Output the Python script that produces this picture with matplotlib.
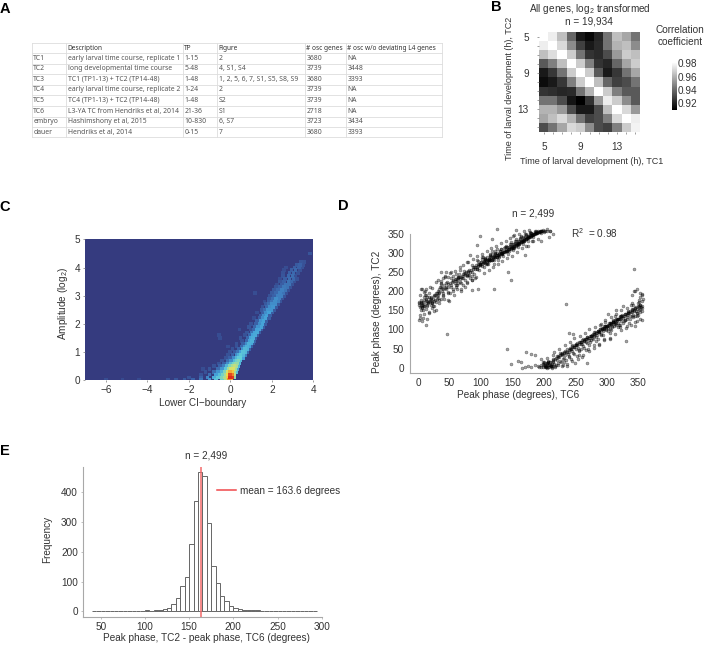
import numpy as np
import matplotlib
matplotlib.use("Agg")
import matplotlib.pyplot as plt
from matplotlib.colors import LinearSegmentedColormap

plt.rcParams['font.family'] = ['Liberation Sans', 'DejaVu Sans']
plt.rcParams['mathtext.default'] = 'regular'

W, H = 709, 645
TXT = '#333333'
GREY = '#a8a8a8'

# panel A
table_header = ['', 'Description', 'TP', 'Figure', '# osc genes', '# osc w/o deviating L4 genes']
table_rows = [
    ['TC1', 'early larval time course, replicate 1', '1-15', '2', '3680', 'NA'],
    ['TC2', 'long developmental time course', '5-48', '4, S1, S4', '3739', '3448'],
    ['TC3', 'TC1 (TP1-13) + TC2 (TP14-48)', '1-48', '1, 2, 5, 6, 7, S1, S5, S8, S9', '3680', '3393'],
    ['TC4', 'early larval time course, replicate 2', '1-24', '2', '3739', 'NA'],
    ['TC5', 'TC4 (TP1-13) + TC2 (TP14-48)', '1-48', 'S2', '3739', 'NA'],
    ['TC6', 'L3-YA TC from Hendriks et al, 2014', '21-36', 'S1', '2718', 'NA'],
    ['embryo', 'Hashimshony et al, 2015', '10-830', '6, S7', '3723', '3434'],
    ['dauer', 'Hendriks et al, 2014', '0-15', '7', '3680', '3393'],
]

# panel B, correlation per time point pair
corr = [
    [.980, .976, .965, .944, .926, .922, .929, .947, .965, .959, .947],
    [.976, .980, .971, .953, .935, .926, .930, .947, .962, .965, .953],
    [.965, .972, .980, .968, .947, .932, .930, .938, .956, .968, .965],
    [.941, .950, .965, .980, .968, .950, .932, .929, .944, .959, .968],
    [.926, .933, .947, .968, .980, .968, .941, .926, .933, .947, .959],
    [.923, .926, .933, .950, .968, .980, .965, .944, .935, .938, .947],
    [.932, .931, .929, .930, .947, .962, .980, .968, .950, .941, .941],
    [.947, .947, .938, .925, .920, .932, .956, .976, .968, .953, .941],
    [.962, .962, .956, .938, .926, .926, .938, .965, .980, .971, .956],
    [.959, .965, .971, .962, .947, .935, .938, .950, .971, .980, .976],
    [.938, .947, .959, .971, .968, .953, .938, .935, .950, .968, .977],
]
b_ticks = ['5', '', '', '', '9', '', '', '', '13', '', '']

# panel C, density read row by row (amplitude, then x and level)
c_y = [0.0, 0.1, 0.2, 0.3, 0.4, 0.5, 0.6, 0.7, 0.8, 0.9, 1.0, 1.1, 1.2, 1.3, 1.4, 1.5, 1.6, 1.7, 1.8, 1.9,
       2.0, 2.1, 2.2, 2.3, 2.4, 2.5, 2.6, 2.7, 2.8, 2.9, 3.0, 3.1, 3.2, 3.3, 3.4, 3.5, 3.6, 3.7, 3.8, 3.9, 4.0, 4.1, 4.2, 4.5]
c_x = [
    [-6.0, -5.2, -4.4, -3.0, -2.6, -2.2, -1.8, -1.4, -1.0, -.7, -.4, -.2, -.05, .05],
    [-2.0, -1.4, -1.1, -.8, -.6, -.4, -.25, -.1, 0, .1, .2],
    [-1.4, -1.0, -.7, -.5, -.35, -.2, -.1, 0, .1, .2],
    [-1.2, -.8, -.6, -.4, -.25, -.1, 0, .1, .2, .3],
    [-1.3, -1.0, -.6, -.4, -.2, -.05, .05, .15, .25, .35],
    [-.8, -.5, -.3, -.15, 0, .1, .2, .3, .4],
    [-.55, -.3, -.1, .05, .15, .25, .35, .45],
    [-.4, -.1, .05, .2, .3, .4, .5],
    [-.2, 0, .15, .3, .4, .5, .6],
    [-.1, .1, .3, .4, .5, .6, .7],
    [0, .2, .35, .5, .6, .7, .8],
    [.1, .4, .6, .7, .8, .9],
    [-.1, .3, .55, .7, .8, .9, 1.0],
    [.3, .6, .8, .9, 1.0, 1.1],
    [.55, .8, .95, 1.05, 1.15],
    [-.5, .5, .85, 1.0, 1.1, 1.2],
    [-.55, .7, .95, 1.1, 1.2, 1.3],
    [.8, 1.05, 1.2, 1.3, 1.4],
    [.45, 1.0, 1.15, 1.3, 1.4, 1.5],
    [.9, 1.2, 1.35, 1.5, 1.6],
    [1.0, 1.25, 1.4, 1.55, 1.7],
    [1.3, 1.45, 1.6, 1.75],
    [1.15, 1.4, 1.55, 1.7, 1.85],
    [1.45, 1.6, 1.75, 1.9],
    [1.3, 1.55, 1.7, 1.85, 2.0],
    [1.5, 1.65, 1.8, 1.95, 2.1],
    [1.55, 1.75, 1.9, 2.05, 2.2],
    [1.7, 1.85, 2.0, 2.15, 2.3],
    [1.65, 1.85, 2.0, 2.15, 2.3, 2.4],
    [1.85, 2.05, 2.2, 2.35, 2.5],
    [1.9, 2.1, 2.3, 2.45, 2.6],
    [1.2, 2.0, 2.2, 2.4, 2.55, 2.7],
    [2.1, 2.3, 2.5, 2.65, 2.8],
    [2.2, 2.4, 2.6, 2.75, 2.9],
    [2.25, 2.5, 2.7, 2.85, 3.0],
    [2.4, 2.6, 2.8, 2.95, 3.1],
    [2.4, 2.65, 2.85, 3.05, 3.2],
    [2.55, 2.8, 3.0, 3.15],
    [2.55, 2.85, 3.05, 3.25],
    [2.6, 2.95, 3.15, 3.35],
    [2.7, 3.1, 3.3, 3.45],
    [3.2, 3.35, 3.5],
    [3.4, 3.55],
    [3.85],
]
c_level = [
    [.05, .04, .04, .06, .07, .08, .1, .13, .18, .28, .34, .48, .78, .7],
    [.06, .1, .16, .23, .3, .38, .46, .65, .98, .95, .42],
    [.06, .12, .2, .27, .36, .46, .62, .92, .82, .5],
    [.06, .12, .18, .26, .38, .54, .72, .66, .46, .28],
    [.05, .07, .12, .18, .3, .44, .54, .55, .44, .22],
    [.06, .1, .15, .25, .38, .46, .5, .46, .26],
    [.06, .1, .17, .27, .36, .42, .42, .26],
    [.06, .12, .17, .27, .34, .38, .26],
    [.06, .1, .17, .26, .32, .32, .2],
    [.06, .1, .17, .24, .3, .26, .15],
    [.06, .08, .13, .2, .28, .26, .12],
    [.06, .1, .18, .26, .24, .1],
    [.05, .06, .11, .18, .24, .21, .09],
    [.06, .1, .17, .24, .22, .09],
    [.06, .11, .2, .24, .1],
    [.05, .06, .11, .2, .23, .09],
    [.05, .06, .11, .2, .22, .09],
    [.07, .13, .21, .22, .09],
    [.05, .06, .11, .2, .21, .09],
    [.07, .11, .18, .21, .09],
    [.06, .1, .17, .21, .09],
    [.1, .18, .21, .09],
    [.05, .09, .17, .21, .09],
    [.09, .17, .2, .09],
    [.05, .09, .17, .2, .09],
    [.08, .12, .18, .18, .08],
    [.06, .11, .17, .18, .08],
    [.08, .12, .17, .17, .08],
    [.05, .09, .13, .17, .15, .07],
    [.08, .12, .17, .15, .07],
    [.06, .1, .15, .15, .07],
    [.05, .08, .11, .15, .13, .06],
    [.08, .11, .15, .13, .06],
    [.07, .1, .14, .13, .06],
    [.05, .09, .13, .13, .06],
    [.07, .1, .13, .11, .06],
    [.05, .09, .12, .11, .06],
    [.07, .11, .12, .06],
    [.06, .1, .11, .06],
    [.05, .09, .11, .06],
    [.05, .09, .1, .06],
    [.08, .1, .06],
    [.07, .06],
    [.07],
]

# panel D, read point by point
d_upper_x = [2, 3, 4, 5, 3, 6, 8, 10, 12, 3, 8, 12, 15, 18, 20, 22, 25, 7, 11, 14, 17, 21, 24, 27, 30, 9, 13, 16, 19, 23, 26, 28,
             30, 32, 34, 36, 38, 40, 42, 44, 46, 48, 50, 52, 54, 56, 58, 60, 62, 64, 66, 68, 70, 72, 74, 76, 78, 80, 82, 84,
             33, 37, 41, 45, 49, 53, 57, 61, 65, 69, 73, 77, 81, 85, 89, 93, 97, 101, 105, 109, 113, 117, 121, 125, 129, 133,
             86, 88, 90, 92, 94, 96, 98, 100, 102, 104, 106, 108, 110, 112, 114, 116, 118, 120, 122, 124, 126, 128, 130, 132,
             134, 136, 138, 140, 142, 144, 146, 148, 150, 152, 154, 156, 158, 160, 162, 164, 166, 168, 170, 172, 174, 176, 178, 180,
             95, 99, 103, 107, 111, 115, 119, 123, 127, 131, 135, 139, 143, 147, 151, 155, 159, 163, 167, 171, 175, 179, 183, 187,
             100, 104, 108, 112, 116, 120, 124, 128, 132, 136, 140, 144, 148, 152, 156, 160, 164, 168, 172, 176, 180, 184, 188, 192,
             145, 149, 153, 157, 161, 165, 169, 173, 177, 181, 185, 189, 193, 197, 201, 205, 209, 184, 188, 192, 196, 200, 196, 200,
             4, 8, 12, 6, 10, 14, 18, 22, 26, 30, 34, 38, 20, 24, 28, 32, 36, 40, 44, 48, 52, 56, 60, 64,
             46, 98, 143, 147, 120, 125, 118, 93, 45, 37, 12, 3, 8, 150, 155, 170, 175, 183, 210, 214, 205, 195, 190, 208,
             48, 55, 62, 70, 75, 80, 85, 90, 78, 83, 86, 95, 60, 67, 52, 63, 68, 74, 28, 31, 35, 39, 43, 47,
             1, 2, 4, 5, 6, 7, 9, 10, 11, 13, 15, 16, 17, 19, 21, 23, 25, 27, 29, 31, 34, 36, 39, 43,
             47, 51, 55, 59, 63, 67, 71, 75, 79, 83, 87, 91, 95, 99, 103, 107, 111, 115, 119, 123, 127, 131, 135, 139,
             143, 147, 151, 155, 159, 163, 167, 171, 175, 179, 183, 187, 191, 195, 61, 65, 69, 73, 77, 81, 85, 89, 93, 97,
             101, 105, 109, 113, 117, 121, 125, 129, 133, 137, 141, 145, 149, 153, 157, 161, 165, 169, 173, 177, 181, 185, 189, 193,
             94, 98, 102, 106, 110, 114, 118, 122, 126, 130, 134, 138, 142, 146, 150, 154, 158, 162, 166, 170, 174, 178, 182, 186,
             107, 111, 115, 119, 123, 127, 131, 135, 139, 143, 147, 151, 155, 159, 163, 167, 171, 175, 179, 183, 187, 191, 195, 199]
d_upper_y = [168, 158, 150, 178, 138, 165, 172, 185, 170, 190, 150, 152, 175, 195, 165, 155, 175, 205, 200, 160, 145, 185, 180, 190, 180, 140, 190, 168, 180, 172, 160, 150,
             195, 190, 205, 180, 200, 195, 215, 205, 225, 210, 195, 215, 225, 205, 220, 232, 215, 235, 225, 220, 240, 235, 228, 250, 240, 250, 235, 255,
             170, 220, 180, 210, 175, 235, 190, 215, 245, 200, 252, 225, 242, 268, 245, 280, 255, 290, 262, 272, 280, 305, 270, 310, 290, 300,
             240, 262, 258, 268, 262, 278, 270, 275, 285, 275, 285, 272, 288, 278, 292, 282, 296, 280, 298, 290, 300, 292, 305, 296,
             300, 312, 302, 308, 316, 305, 318, 310, 322, 312, 325, 318, 330, 322, 336, 328, 340, 332, 342, 336, 345, 340, 352, 346,
             270, 268, 290, 285, 270, 295, 285, 300, 282, 310, 292, 318, 298, 328, 308, 335, 315, 345, 322, 350, 332, 352, 340, 354,
             275, 278, 282, 285, 288, 290, 294, 296, 300, 302, 306, 310, 312, 316, 320, 322, 328, 332, 336, 340, 344, 348, 352, 355,
             310, 314, 318, 322, 326, 330, 334, 338, 342, 346, 350, 352, 355, 356, 357, 358, 356, 348, 352, 354, 357, 358, 352, 355,
             172, 165, 178, 158, 160, 185, 172, 168, 188, 186, 198, 208, 178, 160, 172, 182, 218, 190, 222, 198, 210, 228, 212, 220,
             88, 345, 250, 230, 205, 362, 335, 320, 250, 250, 112, 130, 130, 345, 360, 293, 318, 330, 358, 350, 362, 330, 335, 340,
             238, 240, 228, 235, 212, 242, 228, 235, 275, 295, 202, 205, 245, 255, 250, 238, 205, 248, 225, 228, 210, 235, 240, 178,
             165, 172, 160, 170, 155, 168, 178, 162, 190, 180, 165, 172, 185, 175, 182, 168, 190, 178, 195, 200, 194, 210, 205, 208,
             218, 222, 226, 232, 236, 232, 245, 242, 252, 250, 258, 262, 265, 268, 274, 274, 282, 280, 288, 290, 294, 300, 302, 306,
             310, 314, 318, 322, 325, 330, 334, 336, 342, 345, 350, 352, 356, 357, 226, 238, 236, 245, 243, 256, 250, 262, 258, 272,
             270, 276, 278, 284, 282, 292, 290, 298, 296, 306, 304, 314, 312, 322, 320, 330, 328, 338, 338, 346, 346, 354, 353, 358,
             258, 272, 266, 280, 274, 290, 282, 298, 288, 306, 296, 314, 304, 322, 312, 330, 322, 338, 330, 348, 338, 355, 346, 358,
             286, 280, 296, 288, 304, 294, 310, 302, 316, 308, 324, 316, 332, 326, 340, 334, 346, 344, 352, 350, 356, 354, 358, 359]
d_lower_x = [165, 170, 175, 180, 185, 190, 195, 198, 200, 202, 204, 206, 208, 210, 212, 214, 216, 218, 220, 222, 224, 226, 228, 230,
             192, 196, 200, 203, 207, 211, 215, 219, 223, 227, 231, 235, 239, 243, 247, 251, 255, 259, 263, 267, 271, 275, 279, 283,
             232, 234, 236, 238, 240, 242, 244, 246, 248, 250, 252, 254, 256, 258, 260, 262, 264, 266, 268, 270, 272, 274, 276, 278,
             280, 282, 284, 286, 288, 290, 292, 294, 296, 298, 300, 302, 304, 306, 308, 310, 312, 314, 316, 318, 320, 322, 324, 326,
             328, 330, 332, 334, 336, 338, 340, 342, 344, 346, 348, 350, 352, 354, 356, 345, 347, 349, 351, 353, 355, 357, 343, 341,
             285, 289, 293, 297, 301, 305, 309, 313, 317, 321, 325, 329, 333, 337, 341, 345, 349, 353, 287, 291, 295, 299, 303, 307,
             311, 315, 319, 323, 327, 331, 335, 339, 343, 347, 351, 355, 290, 296, 302, 308, 314, 320, 326, 332, 338, 344, 350, 356,
             225, 231, 237, 243, 249, 255, 261, 267, 273, 279, 205, 212, 218, 222, 230, 240, 246, 252, 258, 264, 270, 276, 282, 288,
             343, 235, 142, 147, 158, 163, 172, 180, 185, 195, 205, 215, 228, 268, 240, 246, 304, 330, 345, 352, 355, 348, 340, 356,
             199, 201, 203, 205, 207, 209, 211, 213, 200, 202, 204, 206, 208, 210, 212, 214, 199, 203, 207, 211, 215, 217, 219, 221,
             223, 225, 227, 229, 231, 233, 235, 237, 239, 241, 243, 245, 247, 249, 251, 253, 255, 257, 259, 261, 263, 265, 267, 269,
             271, 273, 275, 277, 279, 281, 283, 285, 287, 289, 291, 293, 295, 297, 299, 301, 303, 305, 307, 309, 311, 313, 315, 317,
             319, 321, 323, 325, 327, 329, 331, 333, 335, 337, 339, 341, 343, 345, 347, 349, 351, 353, 355, 244, 250, 256, 262, 268,
             274, 280, 286, 292, 298, 304, 310, 316, 322, 328, 334, 340, 346, 352, 294, 297, 300, 303, 306, 309, 312, 315, 318, 321]
d_lower_y = [0, 3, 5, 2, 8, 4, 2, 10, 6, 4, 12, 2, 8, 14, 5, 18, 10, 4, 20, 12, 28, 18, 32, 22,
             1, 8, 14, 2, 18, 4, 24, 6, 30, 14, 38, 20, 30, 48, 36, 58, 44, 62, 52, 76, 60, 72, 88, 80,
             25, 33, 42, 37, 28, 48, 44, 38, 55, 48, 60, 52, 46, 68, 62, 56, 72, 68, 64, 78, 72, 84, 78, 74,
             84, 90, 86, 96, 92, 88, 100, 95, 104, 98, 110, 104, 100, 116, 108, 120, 114, 112, 124, 118, 128, 122, 138, 130,
             125, 140, 132, 148, 135, 145, 150, 138, 155, 148, 142, 160, 152, 158, 148, 120, 135, 170, 178, 185, 190, 180, 200, 165,
             75, 100, 85, 120, 95, 90, 125, 135, 105, 112, 118, 125, 142, 128, 132, 110, 138, 145, 92, 86, 108, 102, 112, 98,
             108, 118, 112, 135, 122, 128, 118, 135, 148, 142, 150, 155, 115, 75, 140, 105, 150, 105, 160, 110, 165, 135, 172, 125,
             38, 14, 5, 22, 12, 32, 28, 45, 68, 60, 0, 0, 2, 8, 6, 42, 55, 30, 50, 70, 48, 85, 70, 60,
             257, 167, 48, 10, 18, 16, 42, 37, 32, 22, 26, 32, 35, 13, 90, 88, 75, 70, 200, 195, 192, 205, 190, 175,
             2, 8, 4, 12, 6, 14, 5, 10, 12, 2, 9, 14, 1, 7, 3, 16, 15, 2, 14, 6, 20, 24, 26, 30,
             28, 34, 36, 38, 40, 44, 42, 48, 46, 52, 50, 56, 54, 60, 58, 64, 62, 68, 66, 72, 70, 76, 74, 80,
             78, 84, 82, 88, 86, 92, 90, 96, 94, 100, 98, 104, 102, 108, 106, 112, 110, 116, 114, 120, 118, 124, 122, 128,
             126, 132, 130, 136, 134, 140, 138, 144, 142, 148, 146, 152, 150, 156, 154, 160, 158, 164, 162, 58, 62, 68, 74, 80,
             84, 92, 96, 104, 108, 116, 120, 128, 134, 140, 146, 152, 158, 164, 102, 110, 108, 116, 114, 122, 120, 128, 126, 134]
# loose points on both sides of the two bands
d_flank_x = [36, 43, 51, 58, 66, 72, 79, 88, 94, 101, 109, 116, 124, 131, 139, 146, 153, 161, 168, 176,
             33, 40, 47, 55, 62, 71, 78, 85, 92, 104, 112, 119, 127, 134, 141, 149, 157, 165, 172, 181,
             5, 9, 14, 17, 22, 25, 1, 7, 12, 19,
             216, 224, 233, 241, 248, 257, 265, 272, 281, 289, 297, 306, 314, 323, 331, 339,
             228, 237, 245, 254, 262, 271, 279, 288, 296, 305, 313, 322, 330, 338, 347, 352]
d_flank_y = [226, 236, 248, 252, 262, 268, 276, 284, 292, 298, 306, 312, 318, 326, 330, 338, 346, 350, 358, 360,
             176, 186, 196, 200, 206, 216, 222, 230, 238, 248, 256, 262, 272, 278, 286, 292, 302, 312, 318, 330,
             205, 198, 128, 142, 208, 148, 125, 122, 205, 212,
             42, 48, 60, 66, 78, 84, 90, 100, 106, 112, 124, 132, 140, 150, 156, 170,
             4, 10, 18, 24, 34, 44, 52, 62, 72, 78, 88, 98, 104, 112, 122, 128]

# panel E, counts in 5 degree bins from 40 to 295
e_edges = [40, 45, 50, 55, 60, 65, 70, 75, 80, 85, 90, 95, 100, 105, 110, 115, 120, 125, 130, 135, 140, 145, 150, 155, 160, 165,
           170, 175, 180, 185, 190, 195, 200, 205, 210, 215, 220, 225, 230, 235, 240, 245, 250, 255, 260, 265, 270, 275, 280, 285, 290, 295]
e_counts = [1, 0, 0, 0, 0, 0, 0, 0, 1, 1, 0, 0, 3, 1, 4, 5, 7, 11, 26, 45, 86, 114, 227, 370, 467, 455,
            297, 152, 95, 50, 33, 17, 12, 7, 5, 3, 3, 3, 1, 0, 0, 1, 0, 0, 0, 1, 1, 0, 0, 0, 1]
mean_phase = 163.6

fig = plt.figure(figsize=(W / 100, H / 100), dpi=100)


def axpx(x0, y0, x1, y1):
    return fig.add_axes([x0 / W, 1 - y1 / H, (x1 - x0) / W, (y1 - y0) / H])


def ftext(x, y, s, **kw):
    kw.setdefault('color', TXT)
    kw.setdefault('fontsize', 7.2)
    kw.setdefault('ha', 'center')
    kw.setdefault('va', 'center')
    return fig.text(x / W, 1 - y / H, s, **kw)


def gline(xs, ys, **kw):
    fig.add_artist(plt.Line2D([x / W for x in xs], [1 - y / H for y in ys], transform=fig.transFigure, **kw))


for letter, lx, ly in [('A', 5, 9), ('B', 496, 7), ('C', 5, 207), ('D', 343, 206), ('E', 5, 451)]:
    ftext(lx, ly, letter, fontsize=10.5, fontweight='bold', color='black')

# A table
col_x = [31.7, 66, 182.7, 217.3, 304.7, 345.7, 441.7]
row_y = [42.7, 53.3, 63.7, 74, 84.7, 95, 105.7, 116.7, 127, 137.3]
for x in col_x:
    gline([x, x], [row_y[0], row_y[-1]], color='#dddddd', lw=0.6)
for y in row_y:
    gline([col_x[0], col_x[-1]], [y, y], color='#dddddd', lw=0.6)
for j, s in enumerate(table_header):
    ftext(col_x[j] + 1.5, (row_y[0] + row_y[1]) / 2, s, ha='left', fontsize=4.7, fontweight='bold',
          family=['Noto Sans', 'DejaVu Sans'])
for i, row in enumerate(table_rows):
    for j, s in enumerate(row):
        ftext(col_x[j] + 1.5, (row_y[i + 1] + row_y[i + 2]) / 2, s, ha='left', fontsize=4.9, color='#555555',
              family=['Noto Sans', 'DejaVu Sans'])

# B heatmap
ax = axpx(539.3, 32, 640, 132)
ax.imshow(np.array(corr), cmap='gray', vmin=.92, vmax=.98, aspect='auto', extent=[4.5, 15.5, 15.5, 4.5], interpolation='nearest')
ax.set_xticks(range(5, 16))
ax.set_yticks(range(5, 16))
ax.set_xticklabels(b_ticks)
ax.set_yticklabels(b_ticks)
ax.tick_params(length=1.5, width=0.5, color='#777777', labelsize=7.2, labelcolor=TXT, pad=6)
for s in ax.spines.values():
    s.set_visible(False)
ftext(590, 9, 'All genes, log$_2$ transformed')
ftext(589, 21, 'n = 19,934')
ftext(592, 162, 'Time of larval development (h), TC1', fontsize=6.5)
ftext(509, 88, 'Time of larval development (h), TC2', rotation=90, fontsize=6.5)
ftext(680, 30, 'Correlation')
ftext(680, 42, 'coefficient')
cax = axpx(671.7, 62, 676, 110)
cax.imshow(np.linspace(1, 0, 64).reshape(-1, 1), cmap='gray', aspect='auto', vmin=0, vmax=1)
cax.axis('off')
for lab, ly in [('0.98', 64), ('0.96', 78), ('0.94', 91), ('0.92', 104)]:
    ftext(677.5, ly, lab, ha='left')

# C density
ax = axpx(85, 239.3, 313.3, 380.3)
dens = LinearSegmentedColormap.from_list('dens', [
    (0, '#353b7f'), (.1, '#3a62a8'), (.2, '#44a0d8'), (.32, '#62cfd8'), (.45, '#a5dc9a'),
    (.6, '#f2e34c'), (.8, '#f28c28'), (1, '#d8201c')])
ax.set_facecolor('#353b7f')
xs, ys, ls = [], [], []
for yv, xrow, lrow in zip(c_y, c_x, c_level):
    for xv, lv in zip(xrow, lrow):
        xs.append(xv)
        ys.append(yv)
        ls.append(lv)
order = np.argsort(ls)
ax.scatter(np.array(xs)[order], np.array(ys)[order], c=np.array(ls)[order], cmap=dens, vmin=0, vmax=1,
           marker='s', s=7, linewidths=0)
ax.set_xlim(-7, 4)
ax.set_ylim(0, 5)
ax.set_xticks([-6, -4, -2, 0, 2, 4])
ax.set_xticklabels(['\u22126', '\u22124', '\u22122', '0', '2', '4'])
ax.set_yticks(range(6))
ax.tick_params(length=1.5, width=0.5, color='#777777', labelsize=7.2, labelcolor=TXT, pad=2)
for s in ax.spines.values():
    s.set_visible(False)
ftext(203, 403, 'Lower CI\u2212boundary')
ftext(63, 303, 'Amplitude (log$_2$)', rotation=90)

# D scatter
ax = axpx(409.7, 228, 640, 372.7)
ax.set_xlim((409.7 - 418) / 0.63, (640 - 418) / 0.63)
ax.set_ylim((367.7 - 372.7) / 0.383, (367.7 - 228) / 0.383)
ax.scatter(d_upper_x + d_lower_x + d_flank_x, d_upper_y + d_lower_y + d_flank_y, s=4.5, facecolor=(0, 0, 0, .35),
           edgecolor=(0, 0, 0, .5), linewidths=0.35, clip_on=False)
ax.set_xticks(range(0, 351, 50))
ax.set_yticks(range(0, 351, 50))
ax.tick_params(length=0, labelsize=7.2, labelcolor=TXT, pad=4)
ax.spines['top'].set_visible(False)
ax.spines['right'].set_visible(False)
ax.spines['left'].set_bounds((367.7 - 372.7) / 0.383, 350)
ax.spines['bottom'].set_bounds((409.7 - 418) / 0.63, 350)
ax.spines['left'].set_color(GREY)
ax.spines['bottom'].set_color(GREY)
ftext(533, 213, 'n = 2,499')
ftext(594, 233, 'R$^2$  = 0.98')
ftext(518, 395, 'Peak phase (degrees), TC6')
ftext(377, 312, 'Peak phase (degrees), TC2', rotation=90)

# E histogram
ax = axpx(82.7, 466.7, 321.7, 616.7)
ax.set_xlim(300 - (321.7 - 82.7) / 0.884, 300)
ax.set_ylim((611.3 - 616.7) / 0.2975, (611.3 - 466.7) / 0.2975)
ax.bar(e_edges[:-1], e_counts, width=5, align='edge', facecolor='white', edgecolor='#666666', linewidth=0.7)
ax.axvline(mean_phase, color='#f26a6a', lw=1.1)
ax.set_xticks(range(50, 301, 50))
ax.set_yticks(range(0, 401, 100))
ax.tick_params(length=1.5, width=0.5, color=GREY, labelsize=7.2, labelcolor=TXT, pad=2)
ax.spines['top'].set_visible(False)
ax.spines['right'].set_visible(False)
ax.spines['left'].set_color(GREY)
ax.spines['bottom'].set_color(GREY)
gline([217, 235.7], [490, 490], color='#f0484a', lw=1.1)
ftext(240, 491, 'mean = 163.6 degrees', ha='left')
ftext(206, 456, 'n = 2,499')
ftext(206, 638, 'Peak phase, TC2 - peak phase, TC6 (degrees)')
ftext(47, 539, 'Frequency', rotation=90)

fig.savefig('out.png', dpi=100)
